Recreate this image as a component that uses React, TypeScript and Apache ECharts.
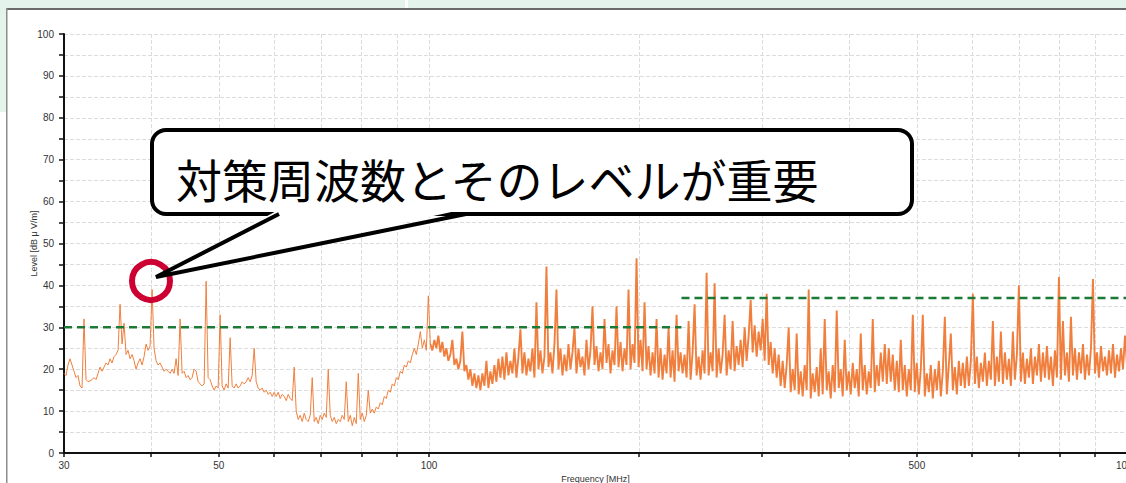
import React, { useEffect, useRef } from "react";
import * as echarts from "echarts";

// Sweep range of the analyzer (MHz); points are spread evenly over the log-frequency sweep
const sweepStartMHz = 30;
const sweepStopMHz = 1000;

const levelsA = [
  19, 18.5, 21, 22.5, 21, 19.5, 18, 18.5, 16, 15.5, 32, 17.5, 17, 17.2, 17.5, 18, 17.5, 19, 20.5, 19.5,
  20.5, 21.5, 21, 22.5, 21.5, 23, 23.5, 24.5, 35.5, 26, 31, 23.5, 24.5, 22.5, 23.5, 22, 20, 21.5, 22.5, 21,
  23, 26, 24.5, 25.5, 39, 25, 22, 21, 21.5, 20.5, 19.5, 20, 19.5, 19, 20, 19, 22.5, 18.5, 32, 19,
  19.5, 18, 18.5, 17.5, 18, 20, 19.5, 17, 16.5, 16, 16.5, 41, 18, 17.5, 16, 15, 16, 15.5, 33, 16,
  15, 16.5, 15.5, 27.5, 16, 15.5, 16.5, 15.5, 16, 17, 16.5, 17, 18, 17, 18.5, 25, 17, 15.5, 15, 15.5,
  14.5, 15, 14, 14.5, 13.5,
];
const levelsB = [
  14.5, 13.5, 14.5, 13, 14, 13.5, 12.5, 14, 13, 12.5, 20.5, 10, 8, 9, 7.5, 9.5, 8, 7.5, 9, 18,
  7.5, 8.5, 7, 9, 8, 9.5, 8.5, 20, 9, 7.5, 8.5, 7, 8, 7.5, 9, 8, 17, 7.5, 9, 6.5,
  8.5, 7, 19, 8, 9.5, 7.5, 9, 15, 9.5, 10.5, 9.5, 11, 10.5, 12, 11.5, 13.5, 13, 15, 14.5, 16.5,
  16, 18, 17.5, 19.5, 19, 21, 20.5, 22, 21.5, 23.5, 25, 23.5, 26, 29, 25, 27, 24.5, 37.5,
];
const levelsC = [
  26, 24.5, 27, 25, 28, 24, 26.5, 23, 25, 22, 23.5, 27, 21, 22.5, 20, 22, 29, 19.5, 21, 17.5,
  20, 16, 19, 15.5, 18.5, 15, 19, 16, 22, 15.5, 19.5, 16.5, 21, 17, 22.5, 18, 23, 17.5, 24, 18.5,
  22, 19, 25, 18, 23, 29.5, 19, 24, 18.5, 22.5, 19.5, 25, 18, 36, 20, 24.5, 19, 23, 44.5, 20.5,
  24, 19, 26, 39, 20, 25, 18.5, 23.5, 19.5, 26, 20, 24, 30, 19, 25, 20.5, 23, 18.5, 27, 20,
  24.5, 35, 21, 25.5, 19.5, 24, 20, 32, 21.5, 26, 19, 24.5, 21, 35, 20.5, 26.5, 19.5, 25, 21, 39,
  20, 26, 21.5, 46.5, 20.5, 27, 19.5, 36, 20, 25.5, 18.5, 24, 19, 32, 18, 25, 17.5, 23.5, 19, 30,
  18, 24.5, 17, 33, 19.5, 24,
];
const levelsD = [
  19, 23.5, 18, 31.5, 17.5, 24, 35.5, 18.5, 23, 17.5, 24.5, 19, 43, 18.5, 24, 19.5, 40.5, 18, 25, 19,
  23.5, 33, 18.5, 24.5, 20, 31.5, 19.5, 25.5, 21, 27, 20.5, 30, 22, 28, 36.5, 24, 30.5, 23, 29, 24.5,
  32, 22, 38, 21, 26.5, 19, 25, 18, 23.5, 16, 22, 15.5, 21, 30, 14.5, 20, 15, 28.5, 14, 19.5,
  13.5, 21, 15, 39, 13, 19, 14.5, 20.5, 13.5, 25, 14, 32, 15, 19.5, 13, 21, 14.5, 34, 15.5, 20,
  13.5, 27, 15, 19.5, 14, 21.5, 15.5, 20, 13.5, 28.5, 15, 21, 14, 19.5, 15.5, 32, 14.5, 21, 16, 24,
  17, 26, 16.5, 25, 17, 23.5, 15, 22, 14.5, 27, 15, 21, 13.5, 20, 15, 33, 14.5, 21.5,
];
const levelsE = [
  14, 20, 33, 13.5, 19, 14.5, 21, 13, 20, 15, 22, 13.5, 19.5, 32.5, 14, 21, 28.5, 15, 20.5, 14,
  22, 16, 21.5, 15.5, 23, 16, 22, 38, 16.5, 23, 15.5, 21.5, 17, 24, 16, 22, 17.5, 31.5, 16, 23,
  17, 29, 16.5, 24, 17.5, 22.5, 16, 29, 17.5, 23.5, 40, 17, 24, 16.5, 22.5, 18, 25, 16.5, 23, 18.5,
  26, 17, 24, 18, 25.5, 17.5, 23, 16, 24.5, 18, 42, 17.5, 31.5, 18.5, 24, 17, 32.5, 18.5, 25, 17.5,
  24, 19, 26, 17.5, 23.5, 18.5, 25, 41.5, 19, 24, 18, 25.5, 19.5, 23, 18.5, 24.5, 19, 26, 18, 23.5,
  19.5, 25, 20, 28, 21,
];

// Limit lines (MHz from, MHz to, level)
const limitFrom = [30, 230];
const limitTo = [230, 1000];
const limitLevel = [30, 37];

// Axis ticks and labels
const freqTicks = [30, 40, 50, 60, 70, 80, 90, 100, 200, 300, 400, 500, 600, 700, 800, 900, 1000];
const freqLabels = [30, 50, 100, 500, 1000];

const calloutText = "対策周波数とそのレベルが重要";

export default function App() {
  const ref = useRef<HTMLDivElement>(null);

  useEffect(() => {
    if (!ref.current) return;
    const chart = echarts.init(ref.current, null, { renderer: "svg" });
    const levels = [...levelsA, ...levelsB, ...levelsC, ...levelsD, ...levelsE];
    const lg0 = Math.log10(sweepStartMHz);
    const lg1 = Math.log10(sweepStopMHz);
    const n = levels.length;
    const spectrum = levels.map((v, i) => [lg0 + ((lg1 - lg0) * i) / (n - 1), v]);
    // low-noise part (below 100 MHz) drawn thin, dense upper part drawn a bit heavier
    const split = levelsA.length + levelsB.length;
    const lowPart = spectrum.slice(0, split + 1);
    const highPart = spectrum.slice(split);

    const limitSeries = limitFrom.map((f, k) => ({
      type: "line",
      data: [
        [Math.log10(f), limitLevel[k]],
        [Math.log10(limitTo[k]), limitLevel[k]],
      ],
      symbol: "none",
      silent: true,
      z: 5,
      lineStyle: { color: "#1a7a36", width: 2.5, type: [8, 5] },
    }));

    const W = 1200;
    const green = "#e4f4ec";
    const font = "Liberation Sans, Arial, sans-serif";

    chart.setOption({
      animation: false,
      backgroundColor: "#ffffff",
      grid: { left: 64, right: W - 1127, top: 34, bottom: 495 - 453 },
      xAxis: {
        type: "value",
        min: lg0,
        max: lg1,
        name: "Frequency [MHz]",
        nameLocation: "middle",
        nameGap: 21,
        nameMoveOverlap: false,
        nameTextStyle: { fontSize: 9, color: "#333", fontFamily: font },
        axisLine: { show: true, onZero: false, lineStyle: { color: "#111", width: 2 } },
        axisTick: {
          show: true,
          length: 4,
          customValues: freqTicks.map((f) => Math.log10(f)),
          lineStyle: { color: "#111", width: 1.5 },
        },
        axisLabel: {
          customValues: freqLabels.map((f) => Math.log10(f)),
          formatter: (v: number) => String(Math.round(Math.pow(10, v))),
          color: "#333",
          fontSize: 10,
          margin: 7,
          fontFamily: font,
        },
        splitLine: { show: true, lineStyle: { color: "#dcdcdc", type: "dashed", width: 1 } },
      },
      yAxis: {
        type: "value",
        min: 0,
        max: 100,
        interval: 5,
        name: "Level [dB μ V/m]",
        nameLocation: "middle",
        nameGap: 26,
        nameMoveOverlap: false,
        nameTextStyle: { fontSize: 9, color: "#333", fontFamily: font },
        axisLine: { show: true, lineStyle: { color: "#111", width: 2 } },
        axisTick: { show: true, length: 5, lineStyle: { color: "#111", width: 1.5 } },
        axisLabel: {
          formatter: (v: number) => (v % 10 === 0 ? String(v) : ""),
          color: "#333",
          fontSize: 10,
          margin: 10,
          fontFamily: font,
        },
        splitLine: { show: true, lineStyle: { color: "#dcdcdc", type: "dashed", width: 1 } },
      },
      series: [
        {
          type: "line",
          data: lowPart,
          symbol: "none",
          z: 3,
          lineStyle: { color: "#f07f3e", width: 1 },
        },
        {
          type: "line",
          data: highPart,
          symbol: "none",
          z: 3,
          lineStyle: { color: "#f07f3e", width: 1.9 },
        },
        ...limitSeries,
      ],
      graphic: [
        { type: "rect", z: -10, shape: { x: 0, y: 0, width: W, height: 8 }, style: { fill: green } },
        { type: "rect", z: -9, shape: { x: 405, y: 0, width: 3, height: 8 }, style: { fill: "#fff" } },
        { type: "rect", z: -10, shape: { x: 0, y: 0, width: 6, height: 112 }, style: { fill: green } },
        { type: "rect", z: -8, shape: { x: 6, y: 8, width: W, height: 2 }, style: { fill: "#6a6a6a" } },
        { type: "rect", z: -8, shape: { x: 6, y: 8, width: 1.5, height: 500 }, style: { fill: "#8c8c8c" } },
        {
          type: "group",
          z: 100,
          children: [
            {
              type: "circle",
              z: 100,
              shape: { cx: 151, cy: 281, r: 19 },
              style: { fill: "none", stroke: "#cc0033", lineWidth: 6 },
            },
            {
              type: "rect",
              z: 101,
              shape: { x: 152, y: 130, width: 760, height: 84, r: 14 },
              style: { fill: "#fff", stroke: "#000", lineWidth: 4 },
            },
            {
              type: "polygon",
              z: 102,
              shape: { points: [[280, 209], [156, 277], [465, 209]] },
              style: { fill: "#fff", stroke: "none" },
            },
            {
              type: "polyline",
              z: 103,
              shape: { points: [[279, 214], [156, 277], [466, 214]] },
              style: { fill: "none", stroke: "#000", lineWidth: 4, lineJoin: "miter" },
            },
            {
              type: "text",
              z: 104,
              x: 176,
              y: 178,
              style: {
                text: calloutText,
                fontSize: 46,
                fontFamily: '"Noto Sans CJK JP", sans-serif',
                fill: "#000",
                verticalAlign: "middle",
                align: "left",
              },
            },
          ],
        },
      ],
    });
    return () => chart.dispose();
  }, []);

  return (
    <div
      style={{
        position: "fixed",
        left: 0,
        top: 0,
        width: 1126,
        height: 483,
        overflow: "hidden",
        background: "#fff",
      }}
    >
      <div ref={ref} style={{ width: 1200, height: 495 }} />
    </div>
  );
}
